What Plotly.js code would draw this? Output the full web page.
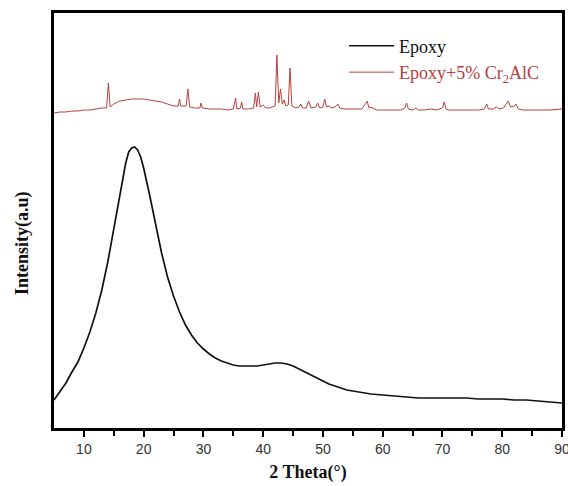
<!DOCTYPE html>
<html>
<head>
<meta charset="utf-8">
<script src="https://cdn.plot.ly/plotly-3.0.1.min.js"></script>
<style>html,body{margin:0;padding:0;background:#fff;}</style>
</head>
<body>
<div id="chart" style="width:568px;height:486px;"></div>
<script>
// 2 Theta (degrees) and intensity (arbitrary units)
const epoxyTheta = [5,6,7,8,9,10,11,12,13,14,15,16,17,17.5,18,18.5,19,19.5,20,21,22,23,24,25,26,27,28,29,30,31,32,33,34,35,36,37,38,39,40,41,42,43,44,45,46,47,48,49,50,51,52,53,54,55,56,58,60,62,64,66,68,70,72,74,76,78,80,82,84,86,88,90];
const epoxyPx = [400,392,383,372,362,348,332,313,290,262,230,195,163,152,148,147,150,157,168,195,225,253,277,296,312,325,335,343,349,354,358,361,363,365,366,366,366,366,365,364,363,363,364,366,369,372,375,378,381,384,386,388,390,391,392,394,395,396,397,398,398,398,398,398,399,399,399,400,400,401,402,403];
const epoxyIntensity = epoxyPx.map(p => 428 - p);

const compTheta = [5,6,7,8,9,10,11,12,13,13.8,14.1,14.4,15,16,17,18,19,20,21,22,23,24,25,25.8,26.0,26.2,27.1,27.4,27.7,28.5,29.4,29.6,29.8,31,32,33,34,35,35.4,35.6,36.2,36.4,36.6,37.5,38.4,38.7,38.9,39.2,39.5,40,40.5,41,41.5,42.0,42.3,42.6,42.9,43.2,43.5,43.8,44.2,44.5,44.8,45.5,46,46.3,46.6,47.2,47.6,48.0,48.8,49.1,49.5,50.0,50.3,50.6,51,51.5,52,52.5,52.8,53.5,54.2,55,56.5,57.1,57.4,57.7,58,59,60,61,62,63,63.7,64.0,64.3,65,65.5,66,67,68,69,70,70.3,70.6,71,72,73,74,75,76,77,77.4,77.7,78.5,79,79.5,80.2,80.6,81.0,81.4,82.0,82.3,82.7,83.5,84,86,88,90];
const compPx = [113,112,112,111,111,110,110,109,108,108,83,107,104,101,100,99,99,99,100,101,102,104,106,106,99,106,106,89,107,108,108,103,108,109,109,109,110,109,98,109,108,102,109,109,108,93,107,92,107,105,108,108,107,106,55,103,89,104,100,106,105,68,106,108,107,104,108,108,101,108,107,103,108,107,99,107,106,108,107,104,108,109,109,109,109,104,101,108,107,110,110,110,110,110,108,103,109,110,108,110,110,109,110,108,102,109,110,110,110,110,110,110,109,104,109,109,107,109,108,104,101,107,106,104,109,110,110,110,110,109];
const compIntensity = compPx.map(p => 428 - p);

const seriesNames = ['Epoxy', '<span style="color:#b5413f">Epoxy+5% Cr<sub>2</sub>AlC</span>'];
const xTickVals = [10,20,30,40,50,60,70,80,90];
const xTickText = ['10','20','30','40','50','60','70','80','90'];
const yTitle = '<b>Intensity(a.u)</b>';
const xTitle = '<b>2 Theta(°)</b>';

const serif = 'Liberation Serif, Times New Roman, serif';

const traces = [
  {x: epoxyTheta, y: epoxyIntensity, type: 'scatter', mode: 'lines', name: seriesNames[0],
   line: {color: '#111111', width: 1.7}},
  {x: compTheta, y: compIntensity, type: 'scatter', mode: 'lines', name: seriesNames[1],
   line: {color: '#b5413f', width: 1}}
];

const layout = {
  width: 568, height: 486,
  margin: {l: 54, r: 6, t: 13, b: 58},
  paper_bgcolor: '#fff', plot_bgcolor: '#fff',
  showlegend: true,
  legend: {x: 0.571, y: 0.965, xanchor: 'left', yanchor: 'top', bgcolor: 'rgba(0,0,0,0)',
           font: {family: serif, size: 18, color: '#111'},
           itemwidth: 45, tracegroupgap: 0},
  xaxis: {range: [5, 90], tickvals: xTickVals, ticktext: xTickText, ticks: 'outside', ticklen: 6, tickwidth: 2,
          tickcolor: '#000', showgrid: false, zeroline: false, showline: true, linecolor: '#000', linewidth: 3, mirror: true,
          ticklabeloverflow: 'allow',
          minor: {tickvals: [15,25,35,45,55,65,75,85], ticks: 'outside', ticklen: 5, tickwidth: 2, tickcolor: '#000'},
          tickfont: {family: 'Liberation Sans, Arial, sans-serif', size: 14, color: '#333'},
          title: {text: xTitle, font: {family: serif, size: 18, color: '#111'}, standoff: 10}},
  yaxis: {range: [0, 415], showticklabels: false, ticks: '', showgrid: false, zeroline: false,
          showline: true, linecolor: '#000', linewidth: 3, mirror: true},
  annotations: [
    {text: yTitle, xref: 'paper', yref: 'paper', x: -32/508, y: (428-243)/415, xanchor: 'center', yanchor: 'middle',
     textangle: -90, showarrow: false, font: {family: serif, size: 18, color: '#111'}}
  ]
};

Plotly.newPlot('chart', traces, layout, {displayModeBar: false, staticPlot: true});
</script>
</body>
</html>
